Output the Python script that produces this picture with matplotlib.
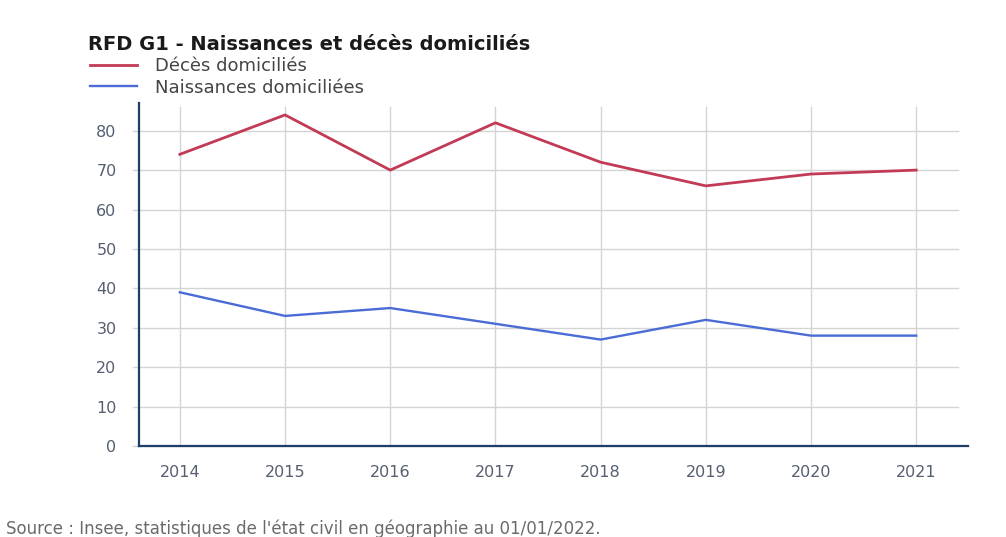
import matplotlib
matplotlib.use("Agg")
import matplotlib.pyplot as plt
from matplotlib.lines import Line2D

plt.rcParams['font.family'] = ['DejaVu Sans']

years = [2014, 2015, 2016, 2017, 2018, 2019, 2020, 2021]
deces = [74, 84, 70, 82, 72, 66, 69, 70]
naissances = [39, 33, 35, 31, 27, 32, 28, 28]
yticks = [0, 10, 20, 30, 40, 50, 60, 70, 80]

title = "RFD G1 - Naissances et décès domiciliés"
label_deces = "Décès domiciliés"
label_naiss = "Naissances domiciliées"
source = "Source : Insee, statistiques de l'état civil en géographie au 01/01/2022."

red = "#c23a55"
blue = "#4a6cd4"
spine = "#1f3d6b"
grid = "#d4d4d4"
tickc = "#555f70"

fig = plt.figure(figsize=(10.06, 5.37), dpi=100)
ax = fig.add_axes([0.138, 0.1695, 0.824, 0.6385])

ax.plot(years, deces, color=red, lw=2.0, zorder=3)
ax.plot(years, naissances, color=blue, lw=1.7, zorder=3)

ax.set_xlim(2013.61, 2021.49)
ax.set_ylim(0, 87)
ax.set_yticks(yticks)
ax.set_xticks(years)
ax.set_yticklabels([str(v) for v in yticks])
ax.set_xticklabels([str(y) for y in years])

for v in yticks:
    ax.plot([2013.55, 2021.4], [v, v], color=grid, lw=1.0, zorder=1, clip_on=False)
for y in years:
    ax.plot([y, y], [0, 86], color=grid, lw=1.0, zorder=1)

for s in ['top', 'right']:
    ax.spines[s].set_visible(False)
ax.spines['left'].set_color(spine)
ax.spines['left'].set_linewidth(1.6)
ax.spines['bottom'].set_color(spine)
ax.spines['bottom'].set_linewidth(1.6)
ax.tick_params(axis='both', length=0, labelsize=11.5, colors=tickc)
ax.tick_params(axis='y', pad=16)
ax.tick_params(axis='x', pad=14)

fig.text(88/1006, 1-44/537, title, fontsize=14, fontweight='bold', color='#1a1a1a', va='center')

handles = [Line2D([], [], color=red, lw=2), Line2D([], [], color=blue, lw=1.7)]
fig.legend(handles, [label_deces, label_naiss], loc='upper left',
           bbox_to_anchor=(90/1006, 1-57/537), frameon=False, fontsize=13,
           handlelength=2.6, handletextpad=1.0, labelspacing=0.2, labelcolor='#444444',
           borderaxespad=0, borderpad=0.0)

fig.text(6/1006, 1-529/537, source, fontsize=12, color='#6a6a6a', va='center')

fig.savefig("out.png", dpi=100)
